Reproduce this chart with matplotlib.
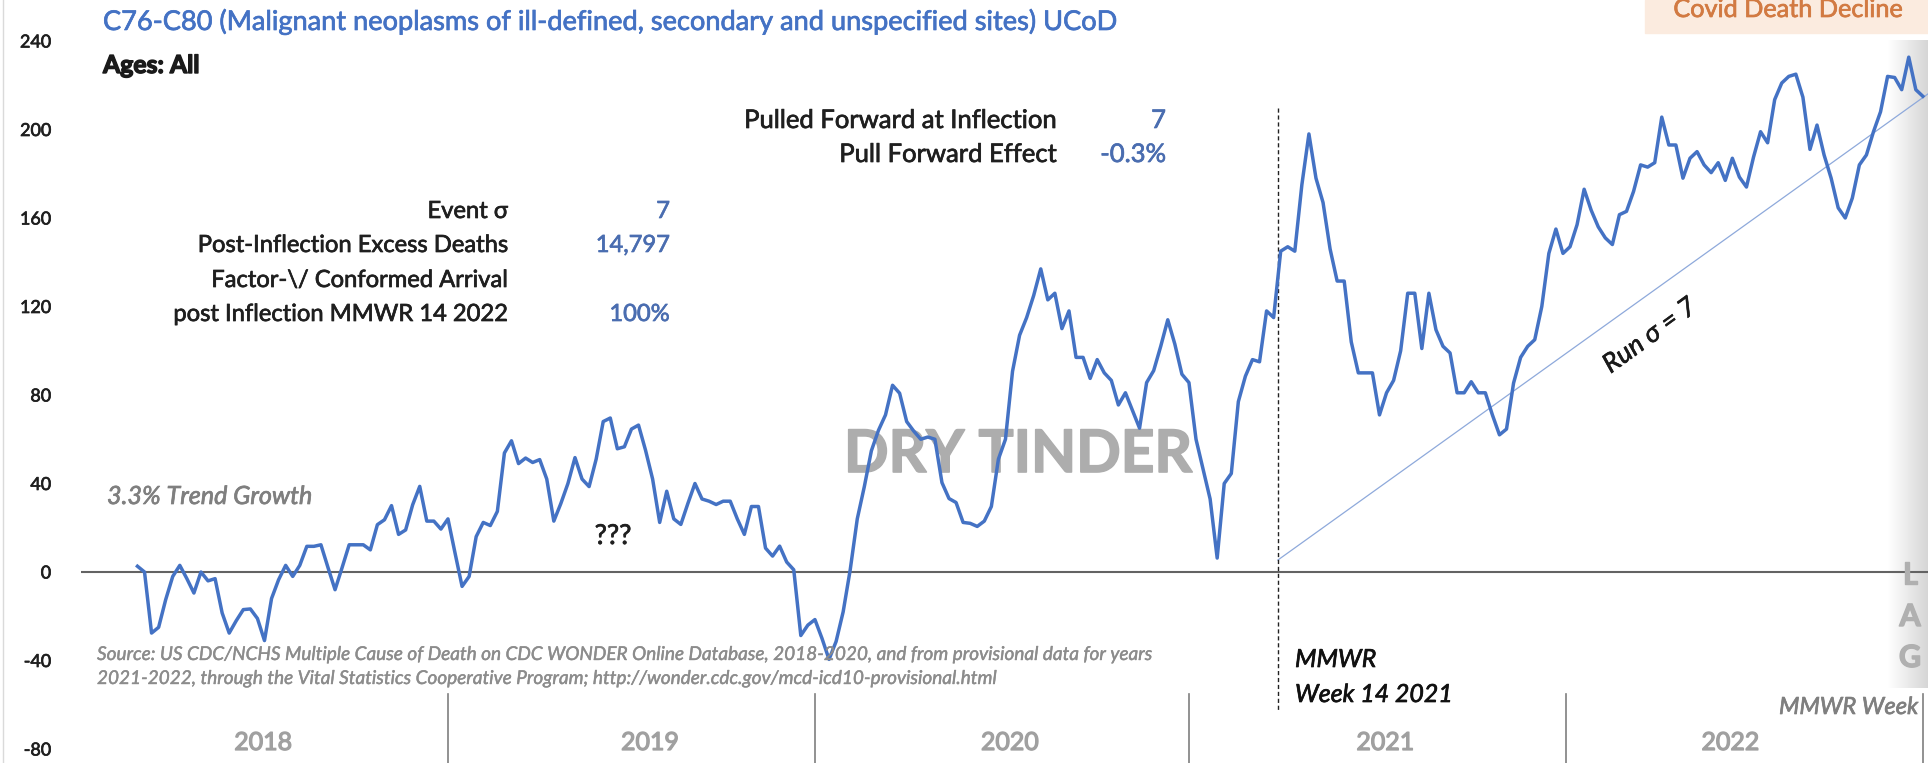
import matplotlib
matplotlib.use("Agg")
import matplotlib.pyplot as plt
import matplotlib.patheffects as pe
from matplotlib.transforms import Affine2D
from matplotlib.colors import LinearSegmentedColormap
from matplotlib.patches import Rectangle
import numpy as np

plt.rcParams['font.family'] = ['Lato', 'DejaVu Sans']

# ---------------- data ----------------
first_index = 8  # 2018 MMWR week 9
vals_2018 = [2.6, 0, -27.6, -25, -12.5, -2, 3, -3, -9.5, 0, -4, -3, -18.5, -27.6, -22, -17,
             -16.7, -21, -31, -12, -3.5, 3, -2, 3, 11.6, 11.6, 12.3, 2, -8, 2, 12.3, 12.3,
             12.3, 10, 21.4, 23.6, 30, 17, 19, 30.4, 38.7, 23, 23, 19.4]
vals_2019 = [24, 8.6, -6.5, -2, 16, 22.4, 21, 27.4, 53.8, 59.3, 49, 51.5, 49.5, 50.8, 42, 23,
             31, 40, 51.7, 42, 38.6, 51, 68, 69.6, 55.7, 56.6, 64.6, 66.4, 55, 42, 22.4, 36.5,
             24, 21.5, 31, 40, 33, 32, 30.5, 32, 32, 24, 17, 29.6, 29.6, 10.8, 7.2, 11.7, 4.5,
             1, -28.7, -24]
vals_2020 = [-21.5, -30, -39.5, -31.4, -18, 1, 24, 38.6, 54.8, 64, 71, 84.4, 80.8, 68, 63.7,
             60, 61, 60, 40.4, 33.2, 31.4, 22.4, 22, 20.6, 23, 29.6, 51, 60, 90.7, 107, 115,
             125, 137, 123, 126, 110, 118, 97, 97, 87.5, 96, 90, 86.6, 75.5, 81, 73, 65, 85.6,
             91, 102, 114, 103, 89.4]
vals_2021 = [85.6, 60, 46.4, 33, 6.3, 40, 44.5, 77, 88.5, 96, 95, 118, 115, 145, 147, 145, 175,
             198, 178, 167, 146, 131.5, 131.5, 104, 90, 90, 90, 71, 81, 86.6, 100, 126, 126,
             101, 126, 109.5, 102, 99, 81, 81, 86, 81, 81, 71, 62, 64.6, 85.4, 97, 102, 105,
             120, 144, 155]
vals_2022 = [144, 147, 157, 173, 163.5, 156, 151, 148, 161.5, 163, 172, 184, 183, 185, 205.6,
             193, 193, 178, 187, 190, 184, 180.5, 185, 177, 187, 178.5, 174, 187.5, 199, 194,
             213.5, 221, 224, 225, 214.6, 191, 202, 188.5, 178, 164.6, 160, 169, 184, 188.5,
             199, 208, 224, 223.5, 218, 232.7, 218, 215]

years = ['2018', '2019', '2020', '2021', '2022']
year_label_pos = [25.8, 80.6, 131.6, 184.8, 233.7]
year_separators = [52, 104, 157, 210.5, 261]

y_ticks = [-80, -40, 0, 40, 80, 120, 160, 200, 240]

trend_start = (169.6, 5.4)
trend_slope = 2.287
inflection_pos = 169.6

stats_labels = ['Event σ', 'Post-Inflection Excess Deaths', 'Factor-\\/ Conformed Arrival',
                'post Inflection MMWR 14 2022']
stats_values = ['7', '14,797', '', '100%']
pull_labels = ['Pulled Forward at Inflection', 'Pull Forward Effect']
pull_values = ['7', '-0.3%']

# ---------------- figure ----------------
W, H, DPI = 1928, 763, 100
fig = plt.figure(figsize=(W / DPI, H / DPI), dpi=DPI)
fig.patch.set_facecolor('white')
PIX = Affine2D().scale(1.0 / W, -1.0 / H).translate(0, 1) + fig.transFigure

X0, DX, Y0, DY = 81, 7.057, 572, 2.2125


def v(py):
    return (Y0 - py) / DY


# gradient band at right
gax = fig.add_axes([1888 / W, 1 - 688 / H, 40 / W, 648 / H], zorder=1)
cmap = LinearSegmentedColormap.from_list('g', ['#FFFFFF', '#D6D6D6'])
gax.imshow(np.linspace(0, 1, 64).reshape(1, -1), cmap=cmap, aspect='auto')
gax.axis('off')

ax = fig.add_axes([X0 / W, 0, (W - X0) / W, 1], zorder=2)
ax.set_xlim(0, (W - X0) / DX)
ax.set_ylim(v(H), v(0))
ax.patch.set_alpha(0)
for s in ax.spines.values():
    s.set_visible(False)
ax.set_xticks([])
ax.set_yticks(y_ticks)
ax.set_yticklabels([str(t) for t in y_ticks])
ax.tick_params(axis='y', length=0, pad=22, labelcolor='#1F1F1F', labelsize=13)

values = np.array(vals_2018 + vals_2019 + vals_2020 + vals_2021 + vals_2022, dtype=float)
weeks = np.arange(first_index, first_index + len(values))

# zero line
ax.axhline(0, color='#636363', lw=1.5, zorder=2)
# main series
ax.plot(weeks, values, color='#4472C4', lw=2.5, zorder=4, solid_joinstyle='round')
# trend line
xe = (W - X0) / DX
ax.plot([trend_start[0], xe], [trend_start[1], trend_start[1] + trend_slope * (xe - trend_start[0])],
        color='#8EA9DB', lw=0.9, zorder=3)
# inflection dashed line
ax.plot([inflection_pos, inflection_pos], [v(108), v(712)], color='#222222', lw=1.0,
        ls=(0, (3, 2)), zorder=3)
# year separators
for xs in year_separators:
    ax.plot([xs, xs], [v(694), v(H)], color='#7F7F7F', lw=1.2, clip_on=False, zorder=3)
# left border
fig.add_artist(plt.Line2D([3, 3], [0, H], transform=PIX, color='#DADADA', lw=1))

# covid box
fig.add_artist(Rectangle((1645, 0), 283, 33, transform=PIX, color='#FBEBDF', zorder=1))

fig.canvas.draw()
R = fig.canvas.get_renderer()


def fit(t, target):
    w = t.get_window_extent(renderer=R).width
    t.set_fontsize(t.get_fontsize() * target / w)
    return t.get_fontsize()


# y tick font size
lab = [l for l in ax.get_yticklabels() if l.get_text() == '240'][0]
ytsize = 13 * 31 / lab.get_window_extent(renderer=R).width
ax.tick_params(axis='y', labelsize=ytsize, pad=(X0 - 51) * 72 / DPI)
for l in ax.get_yticklabels():
    l.set_path_effects([pe.withStroke(linewidth=0.5, foreground='#1F1F1F')])


def T(x, y, s, size=14, stroke=0.5, **kw):
    t = fig.text(x, y, s, transform=PIX, fontsize=size, va='baseline', **kw)
    if stroke:
        t.set_path_effects([pe.withStroke(linewidth=stroke, foreground=kw.get('color', 'black'))])
    return t


t = T(103, 30, 'C76-C80 (Malignant neoplasms of ill-defined, secondary and unspecified sites) UCoD',
      color='#4472C4')
fit(t, 1018)
t = T(103, 73, 'Ages: All', color='#1A1A1A', fontweight='bold', stroke=1.0)
fit(t, 97)

# stats block
ref = T(508, 0, stats_labels[1], color='#262626', ha='right')
sz = fit(ref, 311)
ref.remove()
for lbl, val, yb in zip(stats_labels, stats_values, [218, 252, 287, 321]):
    T(508, yb, lbl, size=sz, color='#1F1F1F', ha='right')
    if val:
        T(670, yb, val, size=sz, color='#4A6DB0', ha='right')

ref = T(1057, 0, pull_labels[0], color='#262626', ha='right')
sz2 = fit(ref, 314)
ref.remove()
for lbl, val, yb in zip(pull_labels, pull_values, [128, 162]):
    T(1057, yb, lbl, size=sz2, color='#1F1F1F', ha='right')
    T(1166, yb, val, size=sz2, color='#4A6DB0', ha='right')

t = T(107, 504, '3.3% Trend Growth', color='#7F7F7F', style='italic')
fit(t, 206)
t = T(613, 544, '???', color='#1F1F1F', ha='center')
fit(t, 37)

t1 = T(97, 660, 'Source: US CDC/NCHS Multiple Cause of Death on CDC WONDER Online Database, 2018-2020, '
       'and from provisional data for years', color='#8C8C8C', style='italic', stroke=0.3)
ssz = fit(t1, 1059)
T(97, 684, '2021-2022, through the Vital Statistics Cooperative Program; '
  'http://wonder.cdc.gov/mcd-icd10-provisional.html', size=ssz, color='#8C8C8C', style='italic',
  stroke=0.3)

dt = ax.text(844, 472, 'DRY TINDER', transform=PIX, fontsize=40, fontweight='bold',
             color='#ADADAD', va='baseline', ha='left', zorder=1, clip_on=False)
fit(dt, 348)
dt.set_path_effects([pe.withStroke(linewidth=1.2, foreground='#ADADAD')])

t = T(1295, 702, 'Week 14 2021', color='#111111', style='italic')
msz = fit(t, 158)
T(1295, 667, 'MMWR', size=msz, color='#111111', style='italic')

t = T(1918, 714, 'MMWR Week', color='#7F7F7F', style='italic', ha='right')
fit(t, 140)

ref = T(0, 0, '2018', color='#A6A6A6')
ysz = fit(ref, 58)
ref.remove()
for yl, xp in zip(years, year_label_pos):
    T(X0 + xp * DX, 750, yl, size=ysz, color='#A0A0A0', ha='center', stroke=0.9)

t = T(1788, 17, 'Covid Death Decline', color='#D27A42', ha='center')
fit(t, 230)

for letter, yb in zip('LAG', [584, 626, 667]):
    T(1910, yb, letter, size=22, color='#B0B0B0', ha='center', fontweight='bold', stroke=1.0)

rt = fig.text(1650, 336, 'Run σ = 7', transform=PIX, fontsize=14, style='italic',
              color='#1A1A1A', ha='center', va='center')
fit(rt, 109)
rt.set_rotation(36)
rt.set_rotation_mode('anchor')
rt.set_path_effects([pe.withStroke(linewidth=0.4, foreground='#1A1A1A')])

fig.savefig('out.png', dpi=DPI, facecolor='white')
